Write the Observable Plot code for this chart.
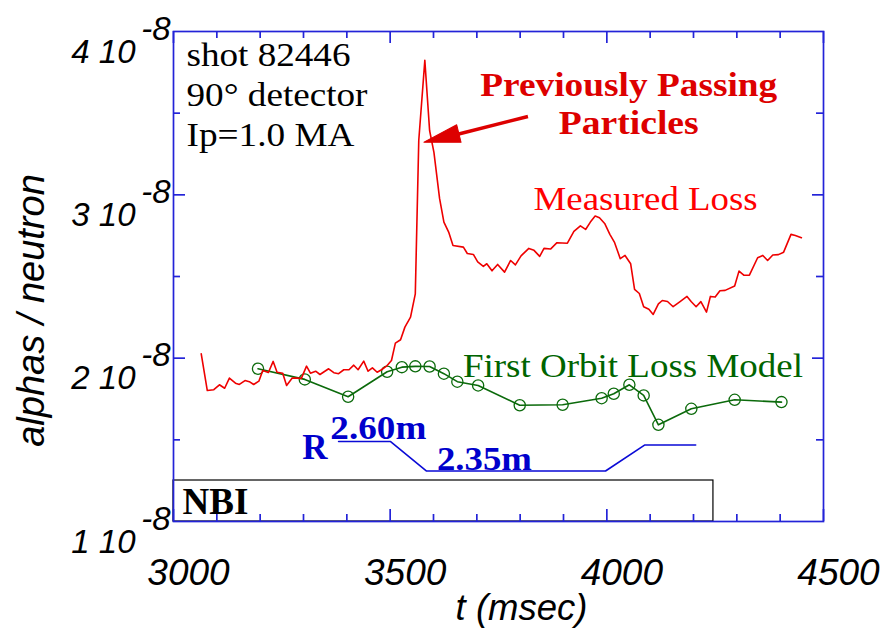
<!DOCTYPE html>
<html>
<head>
<meta charset="utf-8">
<script src="https://cdn.jsdelivr.net/npm/d3@7"></script>
<script src="https://cdn.jsdelivr.net/npm/@observablehq/plot@0.6"></script>
<style>
  html, body { margin: 0; padding: 0; background: #ffffff; }
  #chart svg { display: block; }
</style>
</head>
<body>
<div id="chart"></div>
<script>
// ---------------- data ----------------
// Measured loss (alphas / neutron, units of 1e-8) vs time (msec)
const measuredT = [3064,3078,3093,3106,3118,3129,3143,3152,3165,3175,3185,3197,3206,3219,3230,3239,3252,3261,3274,3285,3295,3307,3316,3328,3338,3358,3370,3381,3393,3405,3416,3426,3439,3449,3459,3470,3480,3493,3503,3512,3524,3534,3547,3558,3566,3580,3591,3601,3614,3624,3635,3645,3669,3678,3692,3702,3715,3723,3735,3748,3764,3778,3789,3802,3820,3832,3845,3855,3870,3885,3909,3924,3939,3951,3962,3973,3983,3995,4007,4018,4031,4042,4055,4064,4075,4085,4097,4107,4119,4128,4140,4153,4169,4185,4195,4206,4217,4230,4239,4250,4261,4273,4295,4305,4316,4329,4348,4360,4371,4383,4396,4408,4425,4435,4449];
const measuredV = [2.027,1.802,1.807,1.837,1.816,1.878,1.847,1.839,1.863,1.856,1.839,1.859,1.925,1.912,1.980,1.914,1.908,1.833,1.878,1.878,1.876,1.951,1.908,1.920,1.900,1.935,1.911,1.905,1.929,1.929,1.957,1.929,1.982,1.920,1.941,1.914,1.929,1.955,1.986,2.092,2.113,2.190,2.251,2.394,3.333,3.823,3.394,3.260,2.978,2.833,2.772,2.690,2.680,2.641,2.635,2.589,2.562,2.578,2.535,2.574,2.527,2.598,2.571,2.626,2.672,2.660,2.623,2.672,2.668,2.707,2.704,2.776,2.810,2.788,2.833,2.870,2.860,2.825,2.758,2.707,2.609,2.629,2.578,2.421,2.396,2.315,2.300,2.268,2.332,2.353,2.347,2.315,2.346,2.378,2.345,2.315,2.346,2.282,2.378,2.374,2.413,2.415,2.442,2.533,2.508,2.508,2.615,2.629,2.598,2.632,2.634,2.649,2.758,2.751,2.737];

// First orbit loss model
const modelT = [3195,3303,3403,3493,3527,3558,3591,3624,3655,3703,3799,3898,3988,4016,4052,4085,4119,4195,4295,4403];
const modelV = [1.935,1.870,1.764,1.917,1.945,1.950,1.949,1.905,1.856,1.833,1.712,1.715,1.755,1.782,1.837,1.772,1.592,1.690,1.745,1.731];

// Major radius R (m) of the plasma vs time
const radiusT = [3381,3501,3584,3997,4087,4205];
const radiusM = [2.60,2.60,2.35,2.35,2.57,2.57];

// NBI on interval (msec)
const nbiInterval = [3000, 4246];

// ticks / tick labels
const xTickLabels = [3000, 3500, 4000, 4500];
const xMajorTicks = [3000, 3500, 4000, 4500];
const xMinorTicks = [3100, 3200, 3300, 3400, 3600, 3700, 3800, 3900, 4100, 4200, 4300, 4400];
const yTickLabels = [1, 2, 3, 4];
const yExponent = -8;
const yMajorTicks = [2, 3];
const yMinorTicks = [1.5, 2.5, 3.5];

// annotation texts
const infoLines = ["shot 82446", "90\u00b0 detector", "Ip=1.0 MA"];
const calloutLines = ["Previously Passing", "Particles"];
const measuredLabel = "Measured Loss";
const modelLabel = "First Orbit Loss Model";
const radiusLabels = ["R", "2.60m", "2.35m"];
const nbiLabel = "NBI";

// ---------------- styles ----------------
const SANS = "Liberation Sans, Arial, Helvetica, sans-serif";
const SERIF = "Liberation Serif, Times New Roman, Times, serif";
const BLUE_AXIS = "#2323d8";
const BLUE = "#0a0ad6";
const RED = "#ee0000";
const DARKRED = "#dd0000";
const GREEN = "#0b6a0b";

const W = 886, H = 628;
const M = { top: 31, right: 63, bottom: 107, left: 173 };
const FW = W - M.left - M.right;   // frame width
const FH = H - M.top - M.bottom;   // frame height

// R (m) drawn on the alpha axis: 2.35 m -> 1.309, slope 0.723 per metre
const rToAxis = (r) => 1.309 + (r - 2.35) * 0.723;

const headShape = { draw(ctx, l, r) { ctx.moveTo(0, -l); ctx.lineTo(-r, 0); ctx.lineTo(r, 0); ctx.closePath(); } };

const tickStyle = { stroke: BLUE_AXIS, strokeWidth: 1.7 };
const xTicks = (values, len) => [
  Plot.ruleX(values, { x: (d) => d, insetTop: FH - len, ...tickStyle }),
  Plot.ruleX(values, { x: (d) => d, insetBottom: FH - len, ...tickStyle })
];
const yTicks = (values, lenL, lenR) => [
  Plot.ruleY(values, { y: (d) => d, insetRight: FW - lenL, ...tickStyle }),
  Plot.ruleY(values, { y: (d) => d, insetLeft: FW - lenR, ...tickStyle })
];

const serifText = (lines, x, y, opts) =>
  Plot.text(lines, { x, y, text: (d) => d, textAnchor: "start", lineAnchor: "bottom", fontFamily: SERIF, ...opts });

const chart = Plot.plot({
  width: W,
  height: H,
  marginLeft: M.left,
  marginRight: M.right,
  marginTop: M.top,
  marginBottom: M.bottom,
  x: { domain: [3000, 4500], axis: null },
  y: { domain: [1, 4], axis: null },
  style: { background: "#ffffff", overflow: "visible" },
  marks: [
    // NBI box
    Plot.rect([nbiInterval], { x1: (d) => d[0], x2: (d) => d[1], y1: 1, y2: 1.251, fill: "none", stroke: "#000", strokeWidth: 1.2 }),
    // R trace
    Plot.line(radiusM, { x: radiusT, y: radiusM.map(rToAxis), stroke: BLUE, strokeWidth: 1.6 }),
    // model
    Plot.line(modelV, { x: modelT, y: modelV, stroke: GREEN, strokeWidth: 1.6 }),
    Plot.dot(modelV, { x: modelT, y: modelV, r: 5.6, stroke: GREEN, fill: "none", strokeWidth: 1.3 }),
    // measured
    Plot.line(measuredV, { x: measuredT, y: measuredV, stroke: RED, strokeWidth: 1.6 }),
    // arrow
    Plot.link([{ t0: 3818, v0: 3.480, t1: 3640, v1: 3.360 }], { x1: "t0", y1: "v0", x2: "t1", y2: "v1", stroke: DARKRED, strokeWidth: 3.5 }),
    Plot.vector([{ t: 3578, v: 3.322 }], { x: "t", y: "v", anchor: "end", length: 36, r: 9, rotate: 256, shape: headShape, fill: DARKRED, stroke: DARKRED, strokeWidth: 1 }),
    // frame + ticks (inward)
    Plot.frame({ stroke: BLUE_AXIS, strokeWidth: 1.7 }),
    ...xTicks(xMajorTicks, 12),
    ...xTicks(xMinorTicks, 7),
    ...yTicks(yMajorTicks, 12, 11),
    ...yTicks(yMinorTicks, 7, 7),
    // x tick labels
    Plot.text(xTickLabels, { x: (d) => d, frameAnchor: "bottom", text: (d) => String(d), dx: 15, dy: 63, lineAnchor: "bottom",
      fontSize: 37, fontStyle: "italic", fontFamily: SANS, fill: "#000" }),
    // y tick labels "n 10^-8"
    Plot.text(yTickLabels, { y: (d) => d, frameAnchor: "left", text: (d) => `${d} 10`, textAnchor: "end", lineAnchor: "bottom",
      dx: -38, dy: 31, fontSize: 33, fontStyle: "italic", fontFamily: SANS, fill: "#000" }),
    Plot.text(yTickLabels, { y: (d) => d, frameAnchor: "left", text: () => `${yExponent}`, textAnchor: "end", lineAnchor: "bottom",
      dx: -3, dy: 8, fontSize: 33, fontStyle: "italic", fontFamily: SANS, fill: "#000" }),
    // axis labels
    Plot.text(["alphas / neutron"], { frameAnchor: "left", text: (d) => d, rotate: -90, textAnchor: "middle", lineAnchor: "bottom",
      dx: -130, dy: 34, fontSize: 38, fontStyle: "italic", fontFamily: SANS, fill: "#000" }),
    Plot.text(["t (msec)"], { frameAnchor: "bottom", text: (d) => d, textAnchor: "middle", lineAnchor: "bottom",
      dx: 23, dy: 98, fontSize: 36.5, fontStyle: "italic", fontFamily: SANS, fill: "#000" }),
    // annotations
    serifText([infoLines[0]], 3030, 3.786, { fontSize: 33, fill: "#000" }),
    serifText([infoLines[1]], 3030, 3.541, { fontSize: 33, fill: "#000" }),
    serifText([infoLines[2]], 3030, 3.296, { fontSize: 33, fill: "#000" }),
    serifText([calloutLines[0]], 3708, 3.608, { fontSize: 34, fontWeight: "bold", fill: DARKRED }),
    serifText([calloutLines[1]], 3889, 3.374, { fontSize: 34, fontWeight: "bold", fill: DARKRED }),
    serifText([measuredLabel], 3831, 2.908, { fontSize: 34, fill: "#ff0000" }),
    serifText([modelLabel], 3668, 1.883, { fontSize: 33, fill: "#006400" }),
    serifText([radiusLabels[0]], 3297, 1.384, { fontSize: 35, fontWeight: "bold", fill: "#0000cc" }),
    serifText([radiusLabels[1]], 3362, 1.506, { fontSize: 33, fontWeight: "bold", fill: "#0000cc" }),
    serifText([radiusLabels[2]], 3608, 1.3165, { fontSize: 33, fontWeight: "bold", fill: "#0000cc" }),
    serifText([nbiLabel], 3021, 1.043, { fontSize: 37, fontWeight: "bold", fill: "#000" })
  ]
});

document.getElementById("chart").append(chart);

// horizontally stretch the serif annotations to match the reference widths
const targetWidths = {
  "shot 82446": 164, "90\u00b0 detector": 181, "Ip=1.0 MA": 168,
  "Previously Passing": 297, "Particles": 140, "Measured Loss": 224,
  "First Orbit Loss Model": 340, "2.60m": 96, "2.35m": 95
};
chart.querySelectorAll("text").forEach((el) => {
  const w = targetWidths[el.textContent];
  if (w) {
    el.setAttribute("textLength", w);
    el.setAttribute("lengthAdjust", "spacingAndGlyphs");
  }
});
</script>
</body>
</html>
